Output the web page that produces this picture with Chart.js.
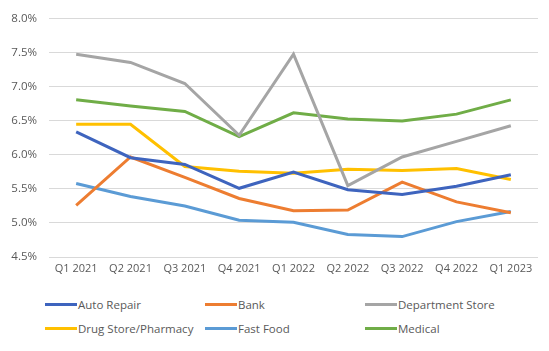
<!DOCTYPE html>
<html><head><meta charset="utf-8">
<script src="https://cdn.jsdelivr.net/npm/chart.js@4"></script>
<style>
html,body{margin:0;padding:0;background:#fff;}
#wrap{position:relative;width:549px;height:351px;}
#c{position:absolute;left:0;top:0;}
.leg{position:absolute;font-family:"Open Sans",Lato,sans-serif;font-size:11.5px;color:#595959;white-space:nowrap;line-height:14px;}
.leg span.ln{display:inline-block;width:32px;height:3px;vertical-align:middle;margin-right:1px;position:relative;top:-1px;}
</style></head>
<body><div id="wrap"><canvas id="c" width="549" height="285"></canvas><div id="legend"></div></div>
<script>
const categories = ["Q1 2021","Q2 2021","Q3 2021","Q4 2021","Q1 2022","Q2 2022","Q3 2022","Q4 2022","Q1 2023"];
const seriesNames = ["Auto Repair","Bank","Department Store","Drug Store/Pharmacy","Fast Food","Medical"];
const autoRepair = [6.34,5.96,5.86,5.51,5.75,5.49,5.42,5.54,5.71];
const bank = [5.26,5.97,5.67,5.36,5.18,5.19,5.60,5.31,5.15];
const departmentStore = [7.48,7.36,7.05,6.29,7.48,5.55,5.97,6.20,6.43];
const drugStore = [6.45,6.45,5.83,5.76,5.73,5.79,5.77,5.80,5.64];
const fastFood = [5.58,5.39,5.25,5.04,5.01,4.83,4.80,5.02,5.17];
const medical = [6.81,6.72,6.64,6.27,6.62,6.53,6.50,6.60,6.81];
const yTicks = [4.5,5.0,5.5,6.0,6.5,7.0,7.5,8.0];
const colors = ["#3E64BE","#ED7D31","#A5A5A5","#FFC000","#5B9BD5","#70AD47"];

const values = [autoRepair,bank,departmentStore,drugStore,fastFood,medical];
const datasets = values.map((v,i)=>({label:seriesNames[i],data:v,borderColor:colors[i],backgroundColor:colors[i],borderWidth:3,pointRadius:0,tension:0,fill:false}));

new Chart(document.getElementById('c'),{
  type:'line',
  data:{labels:categories,datasets:datasets},
  options:{
    responsive:false,animation:false,
    layout:{padding:{top:6,right:11,left:0,bottom:0}},
    plugins:{legend:{display:false},tooltip:{enabled:false}},
    scales:{
      x:{
        offset:true,
        grid:{display:false,drawTicks:false,offset:true},
        border:{display:false},
        ticks:{color:"#595959",font:{family:"'Open Sans', Lato, sans-serif",size:11},maxRotation:0,padding:5},
        afterFit:(s)=>{s.height=28;}
      },
      y:{
        min:4.5,max:8.0,
        afterBuildTicks:(s)=>{s.ticks=yTicks.map(v=>({value:v}));},
        grid:{color:"#D9D9D9",lineWidth:1,drawTicks:false},
        border:{display:false},
        ticks:{color:"#595959",font:{family:"'Open Sans', Lato, sans-serif",size:11.5},padding:12,callback:(v)=>Number(v).toFixed(1)+"%"},
        afterFit:(s)=>{s.width=49;}
      }
    }
  }
});

const leg = document.getElementById('legend');
const colX=[45,205,365], rowY=[298,322];
seriesNames.forEach((n,i)=>{
  const d=document.createElement('div');
  d.className='leg';
  d.style.left=colX[i%3]+'px';
  d.style.top=rowY[Math.floor(i/3)]+'px';
  d.innerHTML='<span class="ln" style="background:'+colors[i]+'"></span>'+n;
  leg.appendChild(d);
});
</script>
</body></html>
